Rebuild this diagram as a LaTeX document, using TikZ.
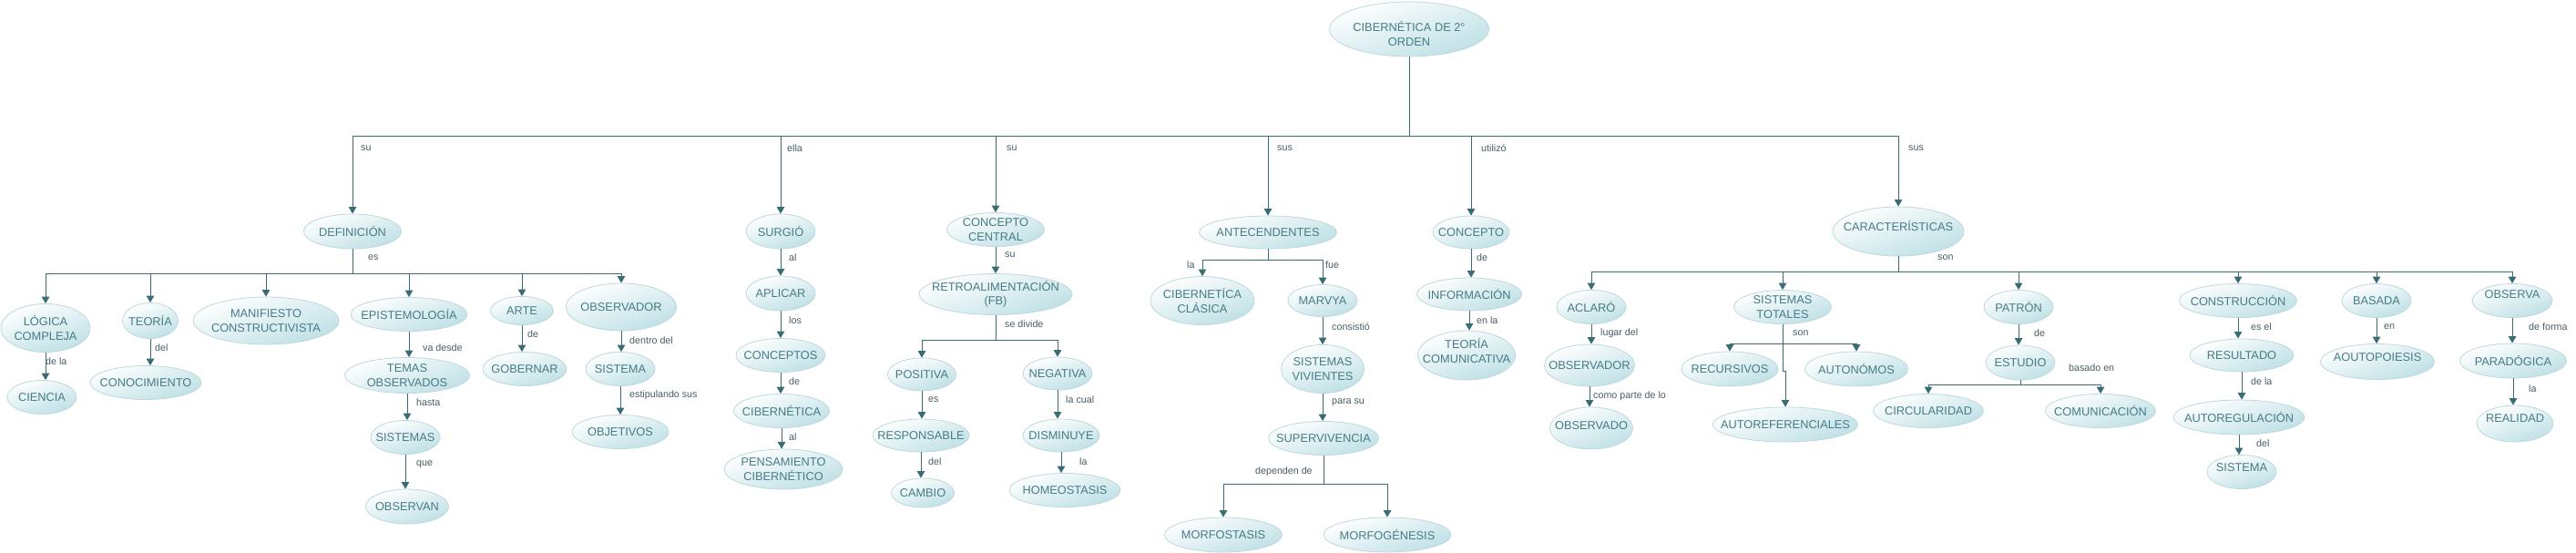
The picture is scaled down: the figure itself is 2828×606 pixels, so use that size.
\documentclass[tikz,border=0pt]{standalone}
\usepackage{fontspec}
\setmainfont{Liberation Sans}
\usetikzlibrary{arrows.meta,shapes.geometric}
\definecolor{lncol}{RGB}{58,108,115}
\definecolor{ntext}{RGB}{70,124,134}
\definecolor{ltext}{RGB}{72,92,102}
\definecolor{nfill}{RGB}{190,224,229}
\definecolor{nborder}{RGB}{190,216,221}
\tikzset{
  cnode/.style={ellipse, draw=nborder, line width=0.8pt, top color=white, bottom color=nfill, shading angle=20, inner sep=0pt},
  ctext/.style={text=ntext, font=\fontsize{12.8}{15.5}\selectfont, align=center, inner sep=0pt},
  lbl/.style={text=ltext, font=\fontsize{10.7}{12}\selectfont, anchor=west, inner sep=0pt},
  ln/.style={draw=lncol, line width=1pt},
  arr/.style={ln, -{Triangle[width=8.5pt,length=7.5pt]}},
}
\newcommand\mkcn[7][0]{%
  \node[cnode, minimum width=#5pt, minimum height=#6pt] (#2) at (#3,#4) {};
  \node[ctext, yshift=#1pt] (#2-t) at (#2) {#7};}
\newcommand\vcn[2]{\draw[arr] (#1.south) -- (#1.south |- #2.north);}
\newcommand\mklb[4]{\node[lbl] (#1) at (#2,#3) {#4};}
\begin{document}
\begin{tikzpicture}[x=1pt,y=-1pt]
\path[fill=white,use as bounding box] (0,0) rectangle (2828,606);
% root
\mkcn[-5]{root}{1547}{32}{175}{60}{CIBERNÉTICA DE 2°\\ORDEN}
% level 1
\mkcn{def}{387}{254}{107}{38}{DEFINICIÓN}
\mkcn{surg}{857}{254}{76}{38}{SURGIÓ}
\mkcn{cc}{1093}{252}{107}{37}{CONCEPTO\\CENTRAL}
\mkcn{ant}{1392}{255}{151}{36}{ANTECENDENTES}
\mkcn{conc}{1615}{255}{84}{36}{CONCEPTO}
\mkcn[6]{car}{2084}{254}{144}{54}{CARACTERÍSTICAS}
% definicion
\mkcn{log}{50}{360}{98}{53}{LÓGICA\\COMPLEJA}
\mkcn{teo}{165}{352}{61}{39}{TEORÍA}
\mkcn{man}{292}{352}{160}{52}{MANIFIESTO\\CONSTRUCTIVISTA}
\mkcn{epi}{449}{345}{128}{37}{EPISTEMOLOGÍA}
\mkcn{arte}{573}{341}{69}{31}{ARTE}
\mkcn{obsv}{682}{337}{121}{52}{OBSERVADOR}
\mkcn{cie}{46}{436}{76}{37}{CIENCIA}
\mkcn{cono}{160}{420}{122}{37}{CONOCIMIENTO}
\mkcn{tem}{447}{412}{137}{39}{TEMAS\\OBSERVADOS}
\mkcn{sis1}{445}{480}{76}{37}{SISTEMAS}
\mkcn{obn}{447}{556}{91}{38}{OBSERVAN}
\mkcn{gob}{576}{405}{92}{37}{GOBERNAR}
\mkcn{sis2}{681}{405}{76}{37}{SISTEMA}
\mkcn{obj}{681}{474}{106}{37}{OBJETIVOS}
% surgio
\mkcn{apl}{857}{322}{76}{38}{APLICAR}
\mkcn{cpt}{857}{390}{98}{37}{CONCEPTOS}
\mkcn{cib1}{858}{451}{105}{37}{CIBERNÉTICA}
\mkcn{pen}{860}{515}{130}{44}{PENSAMIENTO\\CIBERNÉTICO}
% concepto central
\mkcn{ret}{1093}{323}{168}{45}{RETROALIMENTACIÓN\\(FB)}
\mkcn{pos}{1012}{411}{75}{36}{POSITIVA}
\mkcn{neg}{1161}{410}{76}{36}{NEGATIVA}
\mkcn{resp}{1011}{478}{106}{36}{RESPONSABLE}
\mkcn{cam}{1013}{541}{69}{32}{CAMBIO}
\mkcn{dis}{1165}{478}{84}{36}{DISMINUYE}
\mkcn{hom}{1169}{538}{122}{37}{HOMEOSTASIS}
% antecedentes
\mkcn{cib2}{1320}{330}{114}{53}{CIBERNETÍCA\\CLÁSICA}
\mkcn{mar}{1452}{330}{76}{35}{MARVYA}
\mkcn{viv}{1452}{405}{91}{53}{SISTEMAS\\VIVIENTES}
\mkcn{sup}{1453}{481}{121}{37}{SUPERVIVENCIA}
\mkcn{mfs}{1343}{587}{129}{38}{MORFOSTASIS}
\mkcn{mfg}{1523}{587}{140}{38}{MORFOGÉNESIS}
% concepto
\mkcn{inf}{1613}{323}{115}{36}{INFORMACIÓN}
\mkcn[5]{tcom}{1610}{390}{107}{54}{TEORÍA\\COMUNICATIVA}
% caracteristicas
\mkcn{acl}{1747}{337}{76}{37}{ACLARÓ}
\mkcn{obs2}{1745}{401}{99}{46}{OBSERVADOR}
\mkcn[3]{obd}{1747}{470}{91}{46}{OBSERVADO}
\mkcn{st}{1957}{337}{107}{37}{SISTEMAS\\TOTALES}
\mkcn{rec}{1899}{405}{106}{38}{RECURSIVOS}
\mkcn{aut}{2038}{405}{113}{38}{AUTONÓMOS}
\mkcn{autoref}{1960}{466}{159}{38}{AUTOREFERENCIALES}
\mkcn{pat}{2216}{337}{76}{37}{PATRÓN}
\mkcn{est}{2218}{398}{76}{38}{ESTUDIO}
\mkcn{circ}{2117}{451}{121}{37}{CIRCULARIDAD}
\mkcn{com}{2306}{451}{121}{37}{COMUNICACIÓN}
\mkcn{cons}{2457}{330}{129}{37}{CONSTRUCCIÓN}
\mkcn{res}{2461}{390}{114}{36}{RESULTADO}
\mkcn{autoreg}{2458}{458}{144}{38}{AUTOREGULACIÓN}
\mkcn[5]{sis3}{2461}{518}{76}{37}{SISTEMA}
\mkcn{bas}{2609}{330}{76}{37}{BASADA}
\mkcn[5]{aop}{2610}{397}{125}{39}{AOUTOPOIESIS}
\mkcn[7]{obsa}{2758}{330}{88}{37}{OBSERVA}
\mkcn{par}{2759}{396}{117}{38}{PARADÓGICA}
\mkcn[6]{rea}{2761}{465}{84}{40}{REALIDAD}
% connectors: root
\coordinate (rb) at (1547,149);
\draw[ln] (root.south) -- (rb);
\foreach \c in {def,surg,cc,ant,conc,car} \draw[arr] (rb) -| (\c.north);
% definicion
\coordinate (defb) at (387,300);
\draw[ln] (def.south) -- (defb);
\foreach \c in {log,teo,man,epi,arte,obsv} \draw[arr] (defb) -| (\c.north);
\vcn{log}{cie} \vcn{teo}{cono} \vcn{epi}{tem} \vcn{tem}{sis1} \vcn{sis1}{obn}
\vcn{arte}{gob} \vcn{obsv}{sis2} \vcn{sis2}{obj}
% surgio
\vcn{surg}{apl} \vcn{apl}{cpt} \vcn{cpt}{cib1} \vcn{cib1}{pen}
% concepto central
\vcn{cc}{ret}
\coordinate (retb) at (1093,373);
\draw[ln] (ret.south) -- (retb);
\draw[arr] (retb) -| (pos.north);
\draw[arr] (retb) -| (neg.north);
\vcn{pos}{resp} \vcn{resp}{cam} \vcn{neg}{dis} \vcn{dis}{hom}
% antecedentes
\coordinate (antb) at (1392,285);
\draw[ln] (ant.south) -- (antb);
\draw[arr] (antb) -| (cib2.north);
\draw[arr] (antb) -| (mar.north);
\vcn{mar}{viv} \vcn{viv}{sup}
\coordinate (supb) at (1453,531);
\draw[ln] (sup.south) -- (supb);
\draw[arr] (supb) -| (mfs.north);
\draw[arr] (supb) -| (mfg.north);
% concepto
\vcn{conc}{inf} \vcn{inf}{tcom}
% caracteristicas
\coordinate (carb) at (2084,298);
\draw[ln] (car.south) -- (carb);
\foreach \c in {acl,st,pat,cons,bas,obsa} \draw[arr] (carb) -| (\c.north);
\vcn{acl}{obs2} \vcn{obs2}{obd}
\coordinate (stb) at (1957,377);
\draw[ln] (st.south) -- (stb);
\draw[arr] (stb) -| (rec.north);
\draw[arr] (stb) -| (aut.north);
\draw[arr] (stb) -- ++(0,30) -| (autoref.north);
\vcn{pat}{est}
\coordinate (estb) at (2218,422);
\draw[ln] (est.south) -- (estb);
\draw[arr] (estb) -| (circ.north);
\draw[arr] (estb) -| (com.north);
\vcn{cons}{res} \vcn{res}{autoreg} \vcn{autoreg}{sis3}
\vcn{bas}{aop} \vcn{obsa}{par} \vcn{par}{rea}
% labels
\mklb{l1}{396}{163}{su}
\mklb{l2}{864}{163}{ella}
\mklb{l3}{1105}{163}{su}
\mklb{l4}{1402}{163}{sus}
\mklb{l5}{1626}{163}{utilizó}
\mklb{l6}{2095}{163}{sus}
\mklb{l7}{404}{283}{es}
\mklb{l8}{50}{397}{de la}
\mklb{l9}{170}{382}{del}
\mklb{l10}{464}{382}{va desde}
\mklb{l11}{457}{442}{hasta}
\mklb{l12}{457}{510}{que}
\mklb{l13}{579}{367}{de}
\mklb{l14}{691}{374}{dentro del}
\mklb{l15}{691}{434}{estipulando sus}
\mklb{l16}{866}{283}{al}
\mklb{l17}{866}{352}{los}
\mklb{l18}{866}{419}{de}
\mklb{l19}{866}{480}{al}
\mklb{l20}{1103}{280}{su}
\mklb{l21}{1103}{356}{se divide}
\mklb{l22}{1019}{439}{es}
\mklb{l23}{1019}{507}{del}
\mklb{l24}{1170}{439}{la cual}
\mklb{l25}{1185}{507}{la}
\mklb{l26}{1303}{291}{la}
\mklb{l27}{1455}{291}{fue}
\mklb{l28}{1462}{359}{consistió}
\mklb{l29}{1462}{442}{para su}
\mklb{l30}{1378}{518}{dependen de}
\mklb{l31}{1621}{283}{de}
\mklb{l32}{1621}{352}{en la}
\mklb{l33}{2127}{283}{son}
\mklb{l34}{1757}{366}{lugar del}
\mklb{l35}{1749}{435}{como parte de lo}
\mklb{l36}{1968}{366}{son}
\mklb{l37}{2233}{366}{de}
\mklb{l38}{2271}{404}{basado en}
\mklb{l39}{2471}{359}{es el}
\mklb{l40}{2471}{419}{de la}
\mklb{l41}{2477}{487}{del}
\mklb{l42}{2617}{359}{en}
\mklb{l43}{2776}{359}{de forma}
\mklb{l44}{2776}{427}{la}
\end{tikzpicture}
\end{document}
